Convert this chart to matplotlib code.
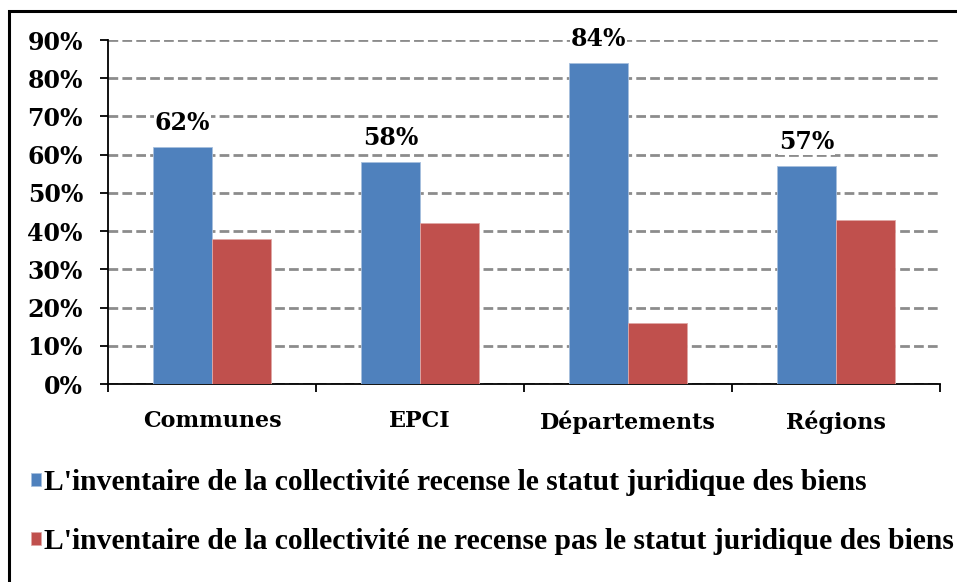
import matplotlib
matplotlib.use("Agg")
import matplotlib.pyplot as plt
from matplotlib.patches import Rectangle
import numpy as np

categories = ["Communes", "EPCI", "Départements", "Régions"]
recense = [62, 58, 84, 57]
pas_recense = [38, 42, 16, 43]
series_names = [
    "L'inventaire de la collectivité recense le statut juridique des biens",
    "L'inventaire de la collectivité ne recense pas le statut juridique des biens",
]
y_ticks = [0, 10, 20, 30, 40, 50, 60, 70, 80, 90]

blue = "#4F81BD"
red = "#C0504D"
label_font = "DejaVu Serif"
legend_font = "Liberation Serif"

fig = plt.figure(figsize=(9.57, 5.82), dpi=100)
ax = fig.add_axes([108 / 957, 1 - 384 / 582, (940 - 108) / 957, (384 - 40) / 582])

x = np.arange(len(categories))
w = 0.285
b1 = ax.bar(x - w / 2, recense, w, color=blue, edgecolor="#A7BFDE", linewidth=0.6,
            label=series_names[0], zorder=3)
b2 = ax.bar(x + w / 2, pas_recense, w, color=red, edgecolor="#E0A8A6", linewidth=0.6,
            label=series_names[1], zorder=3)

# data labels only on the first series
for xi, v in zip(x, recense):
    ax.text(xi - w / 2, v + 3.1, f"{v}%", ha="center", va="bottom", fontsize=17,
            fontweight="bold", family=label_font, zorder=4,
            bbox=dict(facecolor="white", edgecolor="none", pad=0.5))

ax.set_xlim(-0.5, len(categories) - 0.5)
ax.set_ylim(0, 90)
ax.set_yticks(y_ticks)
ax.set_yticklabels([f"{t}%" for t in y_ticks], fontsize=17, fontweight="bold", family=label_font)
ax.yaxis.grid(True, linestyle=(0, (3.5, 1.5)), color="#8C8C8C", linewidth=2, zorder=0)
ax.set_axisbelow(True)

ax.set_xticks(x)
ax.set_xticklabels(categories, fontsize=16, fontweight="bold", family=label_font)
ax.tick_params(axis="x", length=0, pad=19)
ax.set_xticks(np.arange(len(categories) + 1) - 0.5, minor=True)
ax.tick_params(axis="x", which="minor", length=6, width=1.3, direction="out")
ax.tick_params(axis="y", length=6, width=1.3, direction="out", pad=12)

for s in ["top", "right"]:
    ax.spines[s].set_visible(False)
ax.spines["left"].set_linewidth(1.3)
ax.spines["bottom"].set_linewidth(1.3)

fig.legend(handles=[b1, b2], loc="upper left", bbox_to_anchor=(31 / 957, 1 - 469 / 582),
           frameon=False, handlelength=0.33, handleheight=0.33, handletextpad=0.1,
           labelspacing=1.08, borderaxespad=0, borderpad=0,
           prop=dict(family=legend_font, weight="bold", size=21.3))

# outer chart border
fig.patches.append(Rectangle((9 / 957, -0.1), 1.2, 1.1 - 11 / 582, transform=fig.transFigure,
                             fill=False, edgecolor="black", linewidth=2.2))

fig.savefig("out.png", dpi=100)
